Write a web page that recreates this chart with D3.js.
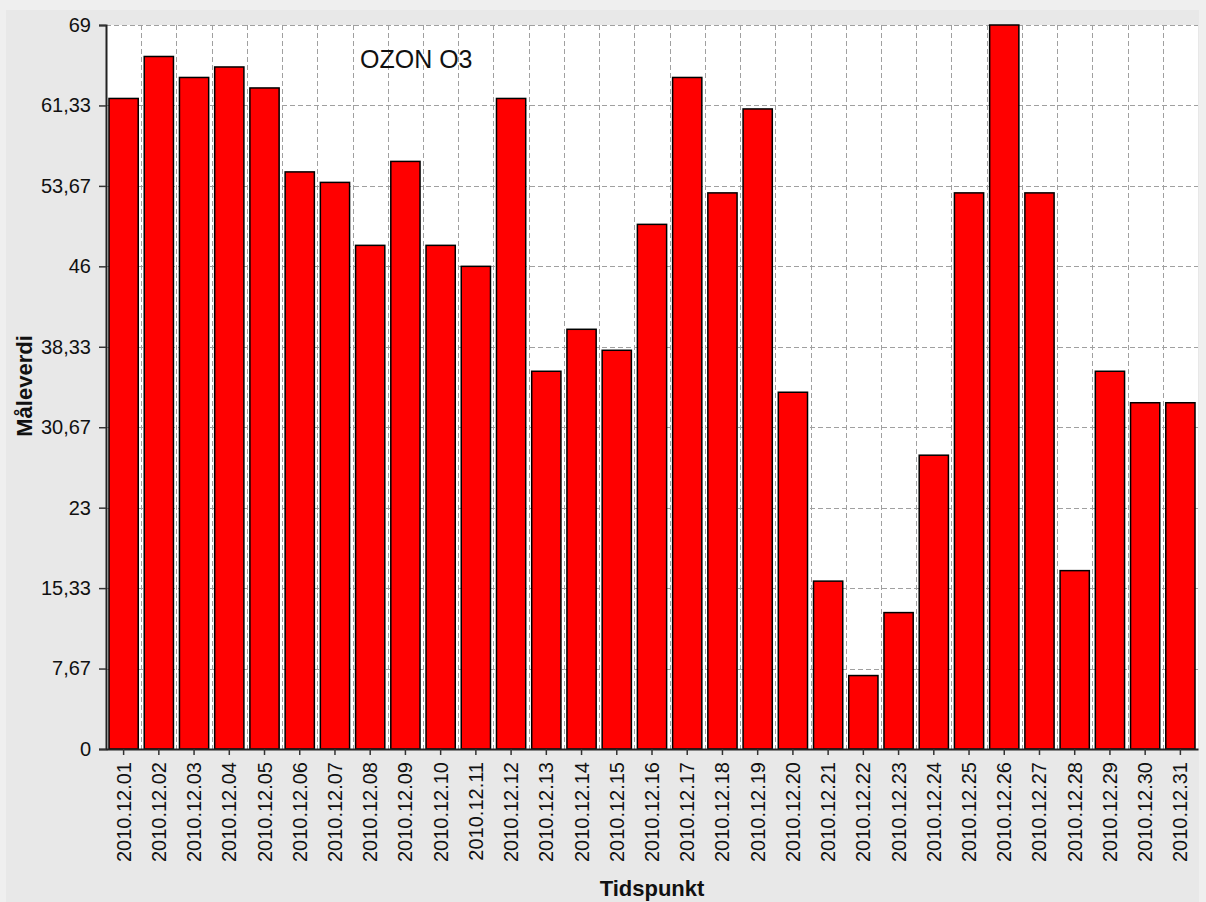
<!doctype html>
<html>
  <head>
    <meta charset="utf-8"/>
    <style>
      body { margin: 0; background: #efefef; }
      text { font-family: "Liberation Sans", Arial, sans-serif; fill: #111; }
    </style>
  </head>
  <body>
    <script src="https://cdn.jsdelivr.net/npm/d3@7/dist/d3.min.js"></script>
    <script>

      const days = [
        '2010.12.01', '2010.12.02', '2010.12.03', '2010.12.04', '2010.12.05',
        '2010.12.06', '2010.12.07', '2010.12.08', '2010.12.09', '2010.12.10',
        '2010.12.11', '2010.12.12', '2010.12.13', '2010.12.14', '2010.12.15',
        '2010.12.16', '2010.12.17', '2010.12.18', '2010.12.19', '2010.12.20',
        '2010.12.21', '2010.12.22', '2010.12.23', '2010.12.24', '2010.12.25',
        '2010.12.26', '2010.12.27', '2010.12.28', '2010.12.29', '2010.12.30',
        '2010.12.31'
      ];

      const ozone = [
        62, 66, 64, 65, 63, 55, 54, 48, 56, 48,
        46, 62, 36, 40, 38, 50, 64, 53, 61, 34,
        16, 7, 13, 28, 53, 69, 53, 17, 36, 33,
        33
      ];

      const yMax = 69;
      const yTicks = [0, 7.667, 15.333, 23, 30.667, 38.333, 46, 53.667, 61.333, 69];

      const title = 'OZON O3';
      const xTitle = 'Tidspunkt';
      const yTitle = 'Måleverdi';

      const W = 1206, H = 902;
      const plotL = 106, plotR = 1198, plotT = 25, plotB = 749;

      const locale = d3.formatLocale({ decimal: ',', thousands: ' ', grouping: [3], currency: ['', ''] });
      const fmt = locale.format('.2~f');

      const svg = d3.create('svg')
            .attr('width', W)
            .attr('height', H)
            .style('display', 'block');

      // chart panel
      svg.append('rect')
        .attr('x', 6).attr('y', 10)
        .attr('width', 1193).attr('height', H - 10)
        .attr('fill', '#e8e8e8');

      const x = d3.scaleBand()
            .domain(days)
            .range([plotL, plotR])
            .paddingInner(0.17)
            .paddingOuter(0.085);

      const y = d3.scaleLinear()
            .domain([0, yMax])
            .range([plotB, plotT]);

      // plot background
      svg.append('rect')
        .attr('x', plotL).attr('y', plotT)
        .attr('width', plotR - plotL).attr('height', plotB - plotT)
        .attr('fill', '#fff');

      const grid = svg.append('g')
            .attr('stroke', '#a0a0a0')
            .attr('stroke-width', 1)
            .attr('stroke-dasharray', '5,3');

      grid.selectAll('line.h')
        .data(yTicks.slice(1))
        .join('line')
        .attr('class', 'h')
        .attr('x1', plotL).attr('x2', plotR)
        .attr('y1', d => Math.round(y(d)) + 0.5)
        .attr('y2', d => Math.round(y(d)) + 0.5);

      const gap = (x.step() - x.bandwidth()) / 2;
      grid.selectAll('line.v')
        .data(days.slice(1))
        .join('line')
        .attr('class', 'v')
        .attr('x1', d => Math.round(x(d) - gap) + 0.5)
        .attr('x2', d => Math.round(x(d) - gap) + 0.5)
        .attr('y1', plotT).attr('y2', plotB);

      svg.append('g')
        .selectAll('rect')
        .data(ozone)
        .join('rect')
        .attr('x', (d, i) => x(days[i]))
        .attr('y', d => y(d))
        .attr('width', x.bandwidth())
        .attr('height', d => plotB - y(d))
        .attr('fill', '#ff0000')
        .attr('stroke', '#000')
        .attr('stroke-width', 1.5);

      const yAxis = svg.append('g')
            .attr('transform', `translate(${plotL},0)`)
            .call(d3.axisLeft(y).tickValues(yTicks).tickSize(7).tickPadding(8).tickFormat(fmt));

      const xAxis = svg.append('g')
            .attr('transform', `translate(0,${plotB})`)
            .call(d3.axisBottom(x).tickSize(6).tickSizeOuter(0));

      [yAxis, xAxis].forEach(a => {
        a.select('.domain').attr('stroke', '#222').attr('stroke-width', 2);
        a.selectAll('.tick line').attr('stroke', '#333').attr('stroke-width', 1.5);
        a.selectAll('text')
          .style('font-family', '"Liberation Sans", Arial, sans-serif')
          .style('font-size', '20px')
          .attr('fill', '#222');
      });

      xAxis.selectAll('.tick text')
        .attr('text-anchor', 'end')
        .attr('transform', 'rotate(-90)')
        .attr('x', -13)
        .attr('y', 0)
        .attr('dy', '0.35em');

      svg.append('text')
        .attr('x', 360).attr('y', 68)
        .style('font-size', '25px')
        .attr('fill', '#222')
        .text(title);

      svg.append('text')
        .attr('x', (plotL + plotR) / 2).attr('y', 896)
        .attr('text-anchor', 'middle')
        .style('font-size', '22px')
        .style('font-weight', 'bold')
        .text(xTitle);

      svg.append('text')
        .attr('transform', 'translate(32,386) rotate(-90)')
        .attr('text-anchor', 'middle')
        .style('font-size', '22px')
        .style('font-weight', 'bold')
        .text(yTitle);

      document.body.append(svg.node());
    </script>
  </body>
</html>
